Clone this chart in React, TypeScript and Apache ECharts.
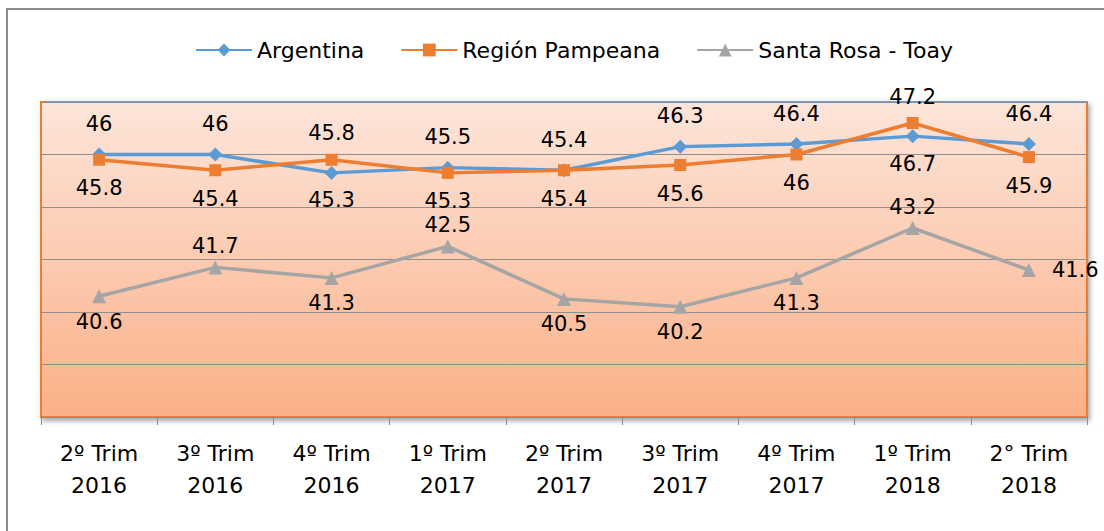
import React, { useEffect, useRef } from "react";
import * as echarts from "echarts";

const categories = [
  "2º Trim\n2016",
  "3º Trim\n2016",
  "4º Trim\n2016",
  "1º Trim\n2017",
  "2º Trim\n2017",
  "3º Trim\n2017",
  "4º Trim\n2017",
  "1º Trim\n2018",
  "2° Trim\n2018",
];
const argentina = [46, 46, 45.3, 45.5, 45.4, 46.3, 46.4, 46.7, 46.4];
const regionPampeana = [45.8, 45.4, 45.8, 45.3, 45.4, 45.6, 46, 47.2, 45.9];
const santaRosaToay = [40.6, 41.7, 41.3, 42.5, 40.5, 40.2, 41.3, 43.2, 41.6];

// label placement (layout only)
const argPos = ["top", "top", "bottom", "top", "top", "top", "top", "bottom", "top"];
const regPos = ["bottom", "bottom", "top", "bottom", "bottom", "bottom", "bottom", "top", "bottom"];
const srtPos = ["bottom", "top", "bottom", "top", "bottom", "bottom", "bottom", "top", "right"];

const FONT = "DejaVu Sans";

function withLabels(values: number[], pos: string[], topD: number, botD: number) {
  return values.map((v, i) => ({
    value: v,
    label: {
      position: pos[i],
      distance: pos[i] === "right" ? 16 : pos[i] === "top" ? topD : botD,
    },
  }));
}

export default function App() {
  const ref = useRef<HTMLDivElement>(null);
  useEffect(() => {
    if (!ref.current) return;
    const chart = echarts.init(ref.current, null, { renderer: "svg" });
    const labelStyle = {
      show: true,
      color: "#000",
      fontFamily: FONT,
      fontSize: 21,
    };
    chart.setOption({
      animation: false,
      backgroundColor: "#fff",
      textStyle: { fontFamily: FONT },
      graphic: [
        {
          type: "polyline",
          shape: { points: [[7, 531], [7, 9], [1104, 9]] },
          style: { stroke: "#8c8c8c", lineWidth: 2, fill: "none" },
          silent: true,
        },
      ],
      legend: {
        top: 34,
        left: 190,
        itemWidth: 56,
        itemHeight: 16,
        itemGap: 36,
        textStyle: { fontFamily: FONT, fontSize: 22, color: "#000" },
        data: ["Argentina", "Región Pampeana", "Santa Rosa - Toay"],
      },
      grid: {
        left: 41,
        top: 102,
        width: 1046,
        height: 315,
        show: true,
        borderColor: "#ED7D31",
        borderWidth: 2,
        backgroundColor: {
          type: "linear",
          x: 0,
          y: 0,
          x2: 0,
          y2: 1,
          colorStops: [
            { offset: 0, color: "#FDE5DA" },
            { offset: 1, color: "#FBB087" },
          ],
        },
        shadowColor: "rgba(0,0,0,0.35)",
        shadowBlur: 5,
        shadowOffsetX: 2,
        shadowOffsetY: 3,
      },
      xAxis: {
        type: "category",
        data: categories,
        boundaryGap: true,
        axisLine: { show: false },
        axisTick: { show: true, length: 8, lineStyle: { color: "#8c8c8c" } },
        axisLabel: {
          color: "#000",
          fontFamily: FONT,
          fontSize: 22,
          lineHeight: 32,
          margin: 20,
        },
      },
      yAxis: {
        type: "value",
        min: 36,
        max: 48,
        interval: 2,
        axisLabel: { show: false },
        axisLine: { show: false },
        axisTick: { show: false },
        splitLine: { show: true, lineStyle: { color: "#8E8E8E", width: 1 } },
      },
      series: [
        {
          name: "Argentina",
          type: "line",
          data: withLabels(argentina, argPos, 13, 10),
          color: "#5B9BD5",
          lineStyle: { width: 3.5 },
          symbol: "diamond",
          symbolSize: 14,
          label: labelStyle,
          z: 3,
        },
        {
          name: "Región Pampeana",
          type: "line",
          data: withLabels(regionPampeana, regPos, 10, 12),
          color: "#ED7D31",
          lineStyle: { width: 3.5 },
          symbol: "rect",
          symbolSize: 12,
          label: labelStyle,
          z: 4,
        },
        {
          name: "Santa Rosa - Toay",
          type: "line",
          data: withLabels(santaRosaToay, srtPos, 4, 8),
          color: "#A5A5A5",
          lineStyle: { width: 3.5 },
          symbol: "triangle",
          symbolSize: 14,
          label: labelStyle,
          z: 2,
        },
      ],
    });
    return () => chart.dispose();
  }, []);
  return (
    <div
      ref={ref}
      style={{ position: "absolute", left: 0, top: 0, width: 1104, height: 531 }}
    />
  );
}
